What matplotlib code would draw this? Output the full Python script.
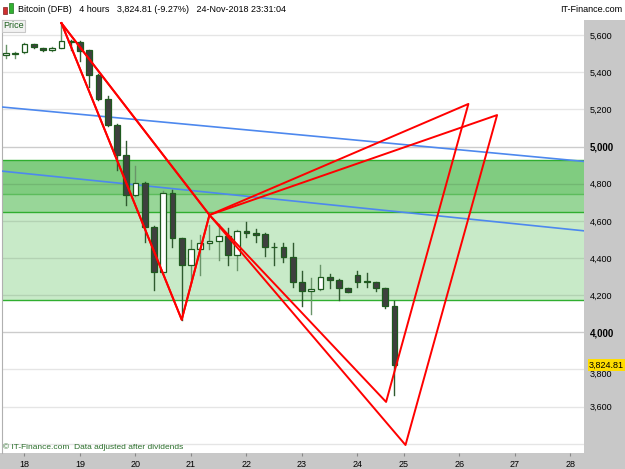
import matplotlib
matplotlib.use("Agg")
import matplotlib.pyplot as plt
import matplotlib.transforms as mtransforms
from matplotlib.patches import Rectangle

plt.rcParams['font.family'] = ['Liberation Sans', 'DejaVu Sans']

# 4-hour candles, Bitcoin (DFB), 17-24 Nov 2018
opens  = [5492, 5499, 5508, 5551, 5530, 5519, 5532, 5571, 5564, 5521, 5386, 5255, 5117, 4955, 4740,
          4806, 4566, 4327, 4752, 4507, 4363, 4447, 4480, 4494, 4519, 4417, 4548, 4537, 4528, 4461,
          4461, 4404, 4270, 4223, 4232, 4300, 4282, 4237, 4309, 4275, 4270, 4237, 4144]
highs  = [5548, 5507, 5557, 5553, 5533, 5534, 5665, 5575, 5567, 5523, 5390, 5273, 5120, 5032, 4896,
          4810, 4570, 4760, 4767, 4510, 4497, 4524, 4578, 4584, 4562, 4552, 4596, 4557, 4535, 4483,
          4481, 4480, 4331, 4291, 4363, 4314, 4285, 4240, 4331, 4318, 4272, 4240, 4169]
lows   = [5476, 5476, 5505, 5533, 5516, 5517, 5530, 5521, 5463, 5323, 5250, 5110, 4875, 4686, 4735,
          4488, 4228, 4320, 4461, 4068, 4273, 4310, 4447, 4390, 4363, 4336, 4512, 4488, 4411, 4363,
          4381, 4246, 4142, 4099, 4230, 4237, 4174, 4215, 4246, 4246, 4223, 4130, 3663]
closes = [5503, 5506, 5553, 5535, 5519, 5532, 5571, 5564, 5517, 5386, 5255, 5117, 4955, 4740, 4806,
          4566, 4327, 4752, 4507, 4363, 4447, 4480, 4494, 4519, 4417, 4548, 4534, 4526, 4461, 4458,
          4404, 4270, 4223, 4232, 4300, 4282, 4241, 4219, 4273, 4273, 4237, 4144, 3825]

day_labels = ['18', '19', '20', '21', '22', '23', '24', '25', '26', '27', '28']
day_ticks = [2, 8, 14, 20, 26, 32, 38, 43, 49, 55, 61]

price_ticks = list(range(3600, 5700, 200))

# green zones (top, bottom)
zones = [(4928, 4744), (4744, 4647), (4647, 4174)]
zone_colors = ['#80cc80', '#98d698', '#c8eac8']
zone_lines = [4928, 4647, 4174]

# blue trend lines: (x0, y0, x1, y1)
blue_lines = [(-1, 5216, 63, 4918), (-1, 4871, 63, 4544)]

# harmonic patterns: X, A, B shared; C and D per pattern
X_pt = (6, 5665)
A_pt = (19, 4068)
B_pt = (22, 4632)
C_pts = [(50, 5230), (53.1, 5170)]
D_pts = [(41.1, 3625), (43.2, 3393)]

last_price = 3824.81

W, H = 625, 469
fig = plt.figure(figsize=(W / 100, H / 100), dpi=100)
fig.patch.set_facecolor('white')

# gray panels (price axis and date axis), behind the axes
fig.patches.append(Rectangle((584 / W, 0), 1 - 584 / W, 1 - 20 / H, transform=fig.transFigure,
                             facecolor='#c8c8c8', edgecolor='none', zorder=-5))
fig.patches.append(Rectangle((0, 0), 1, 16 / H, transform=fig.transFigure,
                             facecolor='#c8c8c8', edgecolor='none', zorder=-5))

ax = fig.add_axes([2 / W, 16 / H, (584 - 2) / W, (453 - 20) / H])
ax.set_zorder(1)
ax.set_facecolor('white')
ax.set_xlim(-0.43, 62.5)
ax.set_ylim(3350, 5682)

# zones
for (top, bot), col in zip(zones, zone_colors):
    ax.axhspan(bot, top, color=col, lw=0, zorder=1)
for lv in zone_lines:
    ax.axhline(lv, color='#2fae2f', lw=1, zorder=2)
ax.axhline(zones[0][1], color='#5cbc5c', lw=1, zorder=2)

# grid
for lv in range(3400, 5700, 200):
    strong = lv in (4000, 5000)
    ax.axhline(lv, color='k', alpha=0.2 if strong else 0.1, lw=1, zorder=2)

# blue lines
for x0, y0, x1, y1 in blue_lines:
    ax.plot([x0, x1], [y0, y1], color='#4d88ee', lw=1.2, zorder=3)

# candles
bw = 0.62
for i, (o, h, l, c) in enumerate(zip(opens, highs, lows, closes)):
    up = c >= o
    ax.plot([i, i], [l, h], color='#6a946a' if up else '#2f5a2f', lw=1, zorder=4)
    lo_, hi_ = min(o, c), max(o, c)
    if hi_ - lo_ < 4:
        hi_ = lo_ + 4
    ax.add_patch(Rectangle((i - bw / 2, lo_), bw, hi_ - lo_,
                           facecolor='white' if up else '#3f3f3f',
                           edgecolor='#1e5a1e', lw=0.9, zorder=5))

# harmonic patterns
for C, D in zip(C_pts, D_pts):
    ax.plot([X_pt[0], A_pt[0], B_pt[0], X_pt[0]], [X_pt[1], A_pt[1], B_pt[1], X_pt[1]],
            color='#ff0000', lw=1.4, zorder=6)
    ax.plot([B_pt[0], C[0], D[0], B_pt[0]], [B_pt[1], C[1], D[1], B_pt[1]],
            color='#ff0000', lw=1.4, zorder=6)

# axes styling
for s in ['top', 'right', 'bottom']:
    ax.spines[s].set_visible(False)
ax.spines['left'].set_color('#b0b0b0')
ax.yaxis.tick_right()
ax.set_yticks(price_ticks)
ax.set_yticklabels([f'{v:,}' for v in price_ticks])
ax.tick_params(axis='y', length=0, pad=4, labelsize=6.5)
for t, v in zip(ax.get_yticklabels(), price_ticks):
    if v in (4000, 5000):
        t.set_fontweight('bold')
        t.set_fontsize(7)
    if v == 3800:
        t.set_va('top')
ax.set_xticks(day_ticks)
ax.set_xticklabels(day_labels)
ax.tick_params(axis='x', length=2, pad=3, labelsize=6.5, color='#888888')

# last price label
tr = mtransforms.blended_transform_factory(fig.transFigure, ax.transData)
ax.text(589 / W, last_price, f'{last_price:,.2f}', transform=tr, fontsize=6.5, va='center', ha='left',
        bbox=dict(boxstyle='square,pad=0.15', facecolor='#ffdd00', edgecolor='none'), zorder=10,
        clip_on=False)

# header
fig.patches.append(Rectangle((3 / W, 1 - 14 / H), 4 / W, 7 / H, transform=fig.transFigure,
                             facecolor='#d03030', edgecolor='#802020', lw=0.5))
fig.patches.append(Rectangle((9 / W, 1 - 13 / H), 4 / W, 10 / H, transform=fig.transFigure,
                             facecolor='#30b030', edgecolor='#207020', lw=0.5))
fig.text(18 / W, 1 - 9 / H, 'Bitcoin (DFB)   4 hours   3,824.81 (-9.27%)   24-Nov-2018 23:31:04',
         fontsize=6.5, va='center', ha='left')
fig.text(622 / W, 1 - 9 / H, 'IT-Finance.com', fontsize=6.5, va='center', ha='right')
fig.text(3 / W, 1 - 26 / H, 'Price', fontsize=6.5, va='center', ha='left', color='#1d5f1d',
         bbox=dict(boxstyle='square,pad=0.15', facecolor='#f2f2f2', edgecolor='#c8c8c8', lw=0.8))

# footer
fig.text(3 / W, 1 - 447 / H, '\u00a9 IT-Finance.com  Data adjusted after dividends',
         fontsize=6, va='center', ha='left', color='#2a6e2a')

fig.savefig('out.png', dpi=100)
